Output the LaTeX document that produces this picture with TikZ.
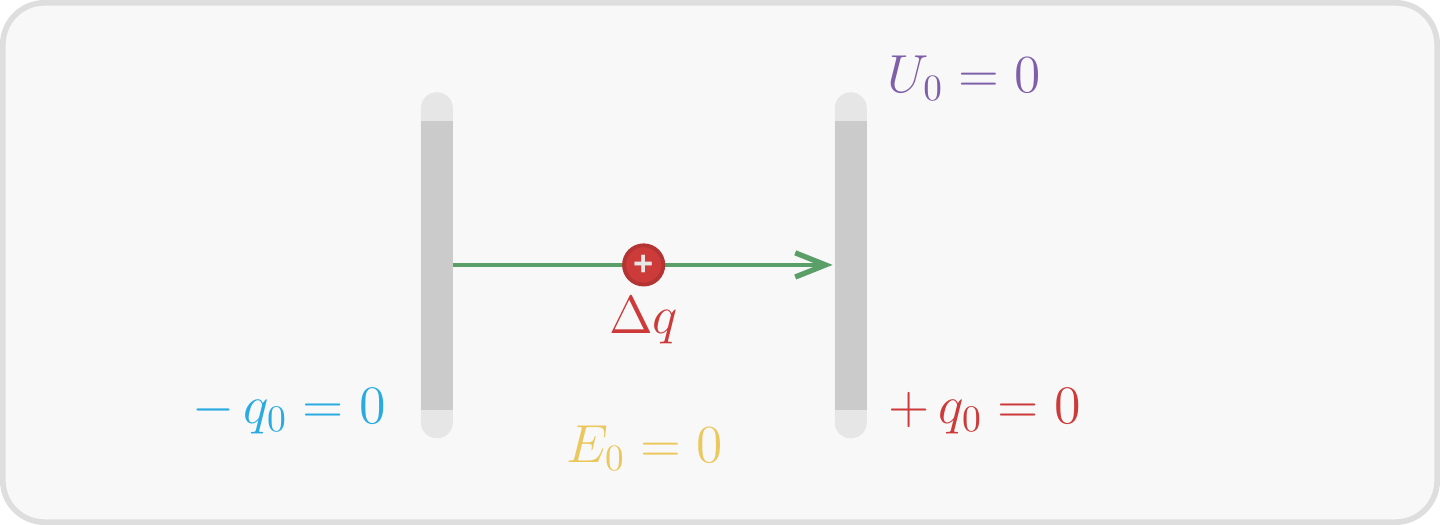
\documentclass[tikz,border=0pt]{standalone}
\usepackage[no-math]{fontspec}
\newfontfamily\plusfont{Liberation Sans}
\usetikzlibrary{arrows.meta,positioning}
\definecolor{framegray}{HTML}{DEDEDE}
\definecolor{panelgray}{HTML}{F8F8F8}
\definecolor{platedark}{HTML}{CBCBCB}
\definecolor{platelight}{HTML}{E6E6E6}
\definecolor{chargered}{HTML}{CC3A3A}
\definecolor{chargeblue}{HTML}{29ABE2}
\definecolor{fieldyellow}{HTML}{EBC85E}
\definecolor{potpurple}{HTML}{7F5FA9}
\definecolor{pathgreen}{HTML}{5A9F68}
\tikzset{
  platecap/.style={fill=platelight, draw=none, rounded corners=4.2mm, minimum width=0.847cm, minimum height=9.155cm, inner sep=0pt},
  platebody/.style={fill=platedark, draw=none, minimum width=0.847cm, minimum height=7.65cm, inner sep=0pt},
  eqlabel/.style={inner sep=0pt, scale=2.8, transform shape, font=\fontsize{14.4}{17}\selectfont},
  testcharge/.style={circle, fill=chargered, draw=chargered!88!black, line width=1mm, minimum size=1.04cm, inner sep=0pt, text=platelight, font=\plusfont\bfseries\fontsize{26}{26}\selectfont}
}
\begin{document}
\begin{tikzpicture}[x=1cm,y=1cm]
  \useasboundingbox (0,0) rectangle (38.1,13.89);
  \node[draw=framegray, fill=panelgray, line width=1.5mm, rounded corners=1.1cm, minimum width=37.95cm, minimum height=13.74cm, inner sep=0pt] (panel) at (19.05,6.945) {};

  \node[platecap] (leftcap) at (11.56,6.87) {};
  \node[platebody] (leftplate) at (11.56,6.87) {};
  \node[platecap] (rightcap) at (22.51,6.87) {};
  \node[platebody] (rightplate) at (22.51,6.87) {};

  \draw[pathgreen, line width=1.1mm, shorten >=0.5mm, -{Straight Barb[length=8mm,width=6.4mm,line width=1.4mm]}] (leftplate.east |- 0,6.88) coordinate (pathstart) -- (rightplate.west |- 0,6.88) coordinate (pathend);
  \node[testcharge] (charge) at (17.03,6.88) {+};

  \node[eqlabel, text=chargered] (dq) at (17.03,5.42) {$\Delta q$};
  \node[eqlabel, scale=1.01, text=chargeblue] (neg) at (7.65,3.02) {$-\,q_0=0$};
  \node[eqlabel, scale=1.01, text=chargered] (pos) at (26.05,3.02) {$+\,q_0=0$};
  \node[eqlabel, text=fieldyellow] (field) at (17.05,2.03) {$E_0=0$};
  \node[eqlabel, text=potpurple] (pot) at (25.51,11.83) {$U_0=0$};
\end{tikzpicture}
\end{document}
